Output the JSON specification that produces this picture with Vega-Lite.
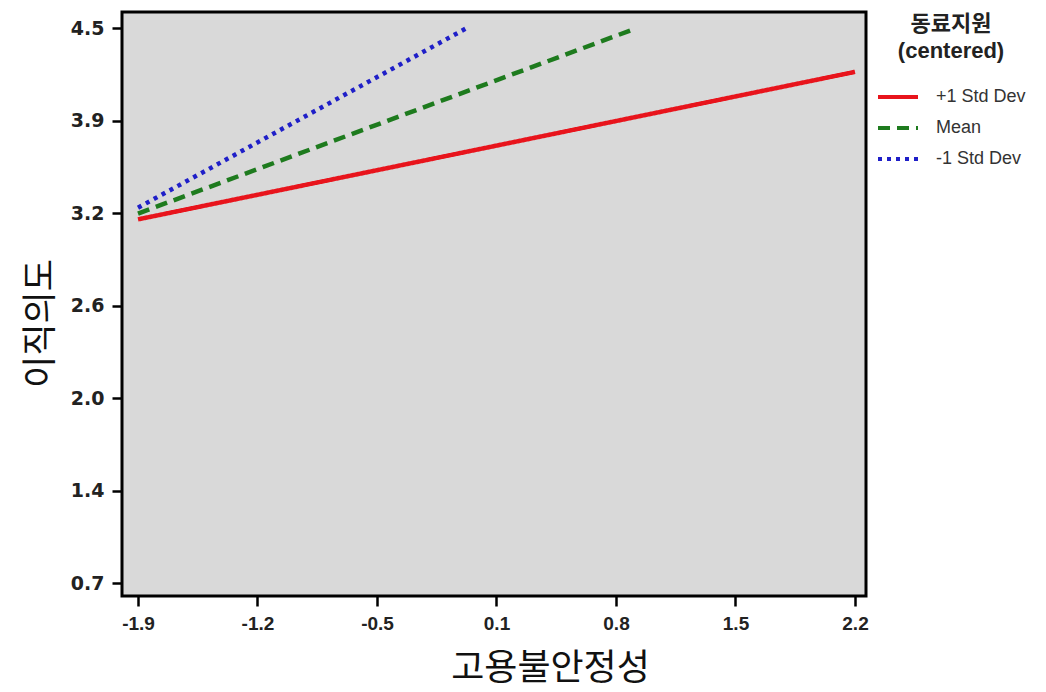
{
  "$schema": "https://vega.github.io/schema/vega-lite/v6.json",
  "width": 744,
  "height": 584,
  "autosize": {"type": "none"},
  "padding": {"left": 122, "top": 12, "right": 180, "bottom": 96},
  "background": "white",
  "data": {
    "values": [
      {"series": "+1 Std Dev", "x": -1.9, "y": 3.19},
      {"series": "+1 Std Dev", "x": 2.2, "y": 4.2},
      {"series": "Mean", "x": -1.9, "y": 3.23},
      {"series": "Mean", "x": 0.93, "y": 4.49},
      {"series": "-1 Std Dev", "x": -1.9, "y": 3.27},
      {"series": "-1 Std Dev", "x": -0.02, "y": 4.5}
    ]
  },
  "mark": {"type": "line", "strokeWidth": 4.5, "clip": true},
  "encoding": {
    "x": {
      "field": "x",
      "type": "quantitative",
      "scale": {"domain": [-1.9915, 2.263], "nice": false, "zero": false},
      "axis": {
        "title": "고용불안정성",
        "values": [-1.9, -1.2167, -0.5333, 0.15, 0.8333, 1.5167, 2.2],
        "labelExpr": "datum.value < -1.5 ? '-1.9' : datum.value < -0.8 ? '-1.2' : datum.value < -0.2 ? '-0.5' : datum.value < 0.5 ? '0.1' : datum.value < 1.2 ? '0.8' : datum.value < 1.9 ? '1.5' : '2.2'",
        "grid": false,
        "domain": false,
        "ticks": true,
        "tickSize": 10,
        "tickWidth": 2.5,
        "tickColor": "black",
        "labelPadding": 8,
        "labelFont": "Liberation Sans",
        "labelFontWeight": "bold",
        "labelFontSize": 19,
        "labelColor": "#222",
        "titleFont": "Noto Sans CJK KR",
        "titleFontWeight": "normal",
        "titleFontSize": 36,
        "titleColor": "#111",
        "titlePadding": 18,
        "titleX": 428
      }
    },
    "y": {
      "field": "y",
      "type": "quantitative",
      "scale": {"domain": [0.611, 4.61], "nice": false, "zero": false},
      "axis": {
        "title": "이직의도",
        "values": [0.7, 1.3333, 1.9667, 2.6, 3.2333, 3.8667, 4.5],
        "labelExpr": "datum.value < 1 ? '0.7' : datum.value < 1.6 ? '1.4' : datum.value < 2.3 ? '2.0' : datum.value < 2.9 ? '2.6' : datum.value < 3.5 ? '3.2' : datum.value < 4.2 ? '3.9' : '4.5'",
        "grid": false,
        "domain": false,
        "ticks": true,
        "tickSize": 10,
        "tickWidth": 2.5,
        "tickColor": "black",
        "labelPadding": 8,
        "labelFont": "DejaVu Sans",
        "labelFontWeight": "bold",
        "labelFontSize": 19,
        "labelColor": "#222",
        "titleFont": "Noto Sans CJK KR",
        "titleFontWeight": "normal",
        "titleFontSize": 35,
        "titleColor": "#111",
        "titlePadding": 12,
        "titleY": 311
      }
    },
    "color": {
      "field": "series",
      "type": "nominal",
      "scale": {"domain": ["+1 Std Dev", "Mean", "-1 Std Dev"], "range": ["#e8141c", "#1e7b1e", "#1f1fc8"]},
      "legend": {
        "title": ["동료지원", "(centered)"],
        "orient": "none",
        "legendX": 754,
        "legendY": 2,
        "titleAnchor": "middle",
        "titleAlign": "center",
        "titleFont": "Liberation Sans, Noto Sans CJK KR",
        "titleFontSize": 22,
        "titleFontWeight": "bold",
        "titleColor": "#222",
        "titleLineHeight": 27,
        "titlePadding": 12,
        "symbolType": "stroke",
        "symbolSize": 1600,
        "symbolStrokeWidth": 4,
        "labelFont": "Liberation Sans",
        "labelFontSize": 18,
        "labelColor": "#333",
        "labelOffset": 16,
        "rowPadding": 0
      }
    },
    "strokeDash": {
      "field": "series",
      "type": "nominal",
      "scale": {"domain": ["+1 Std Dev", "Mean", "-1 Std Dev"], "range": [[1, 0], [12, 7], [4, 5]]},
      "legend": {
        "title": ["동료지원", "(centered)"],
        "orient": "none",
        "legendX": 754,
        "legendY": 2,
        "titleAnchor": "middle",
        "titleAlign": "center",
        "titleFont": "Liberation Sans, Noto Sans CJK KR",
        "titleFontSize": 22,
        "titleFontWeight": "bold",
        "titleColor": "#222",
        "titleLineHeight": 27,
        "titlePadding": 12,
        "symbolType": "stroke",
        "symbolSize": 1600,
        "symbolStrokeWidth": 4,
        "labelFont": "Liberation Sans",
        "labelFontSize": 18,
        "labelColor": "#333",
        "labelOffset": 16,
        "rowPadding": 0
      }
    }
  },
  "config": {
    "view": {"fill": "#d9d9d9", "stroke": "black", "strokeWidth": 3}
  }
}
